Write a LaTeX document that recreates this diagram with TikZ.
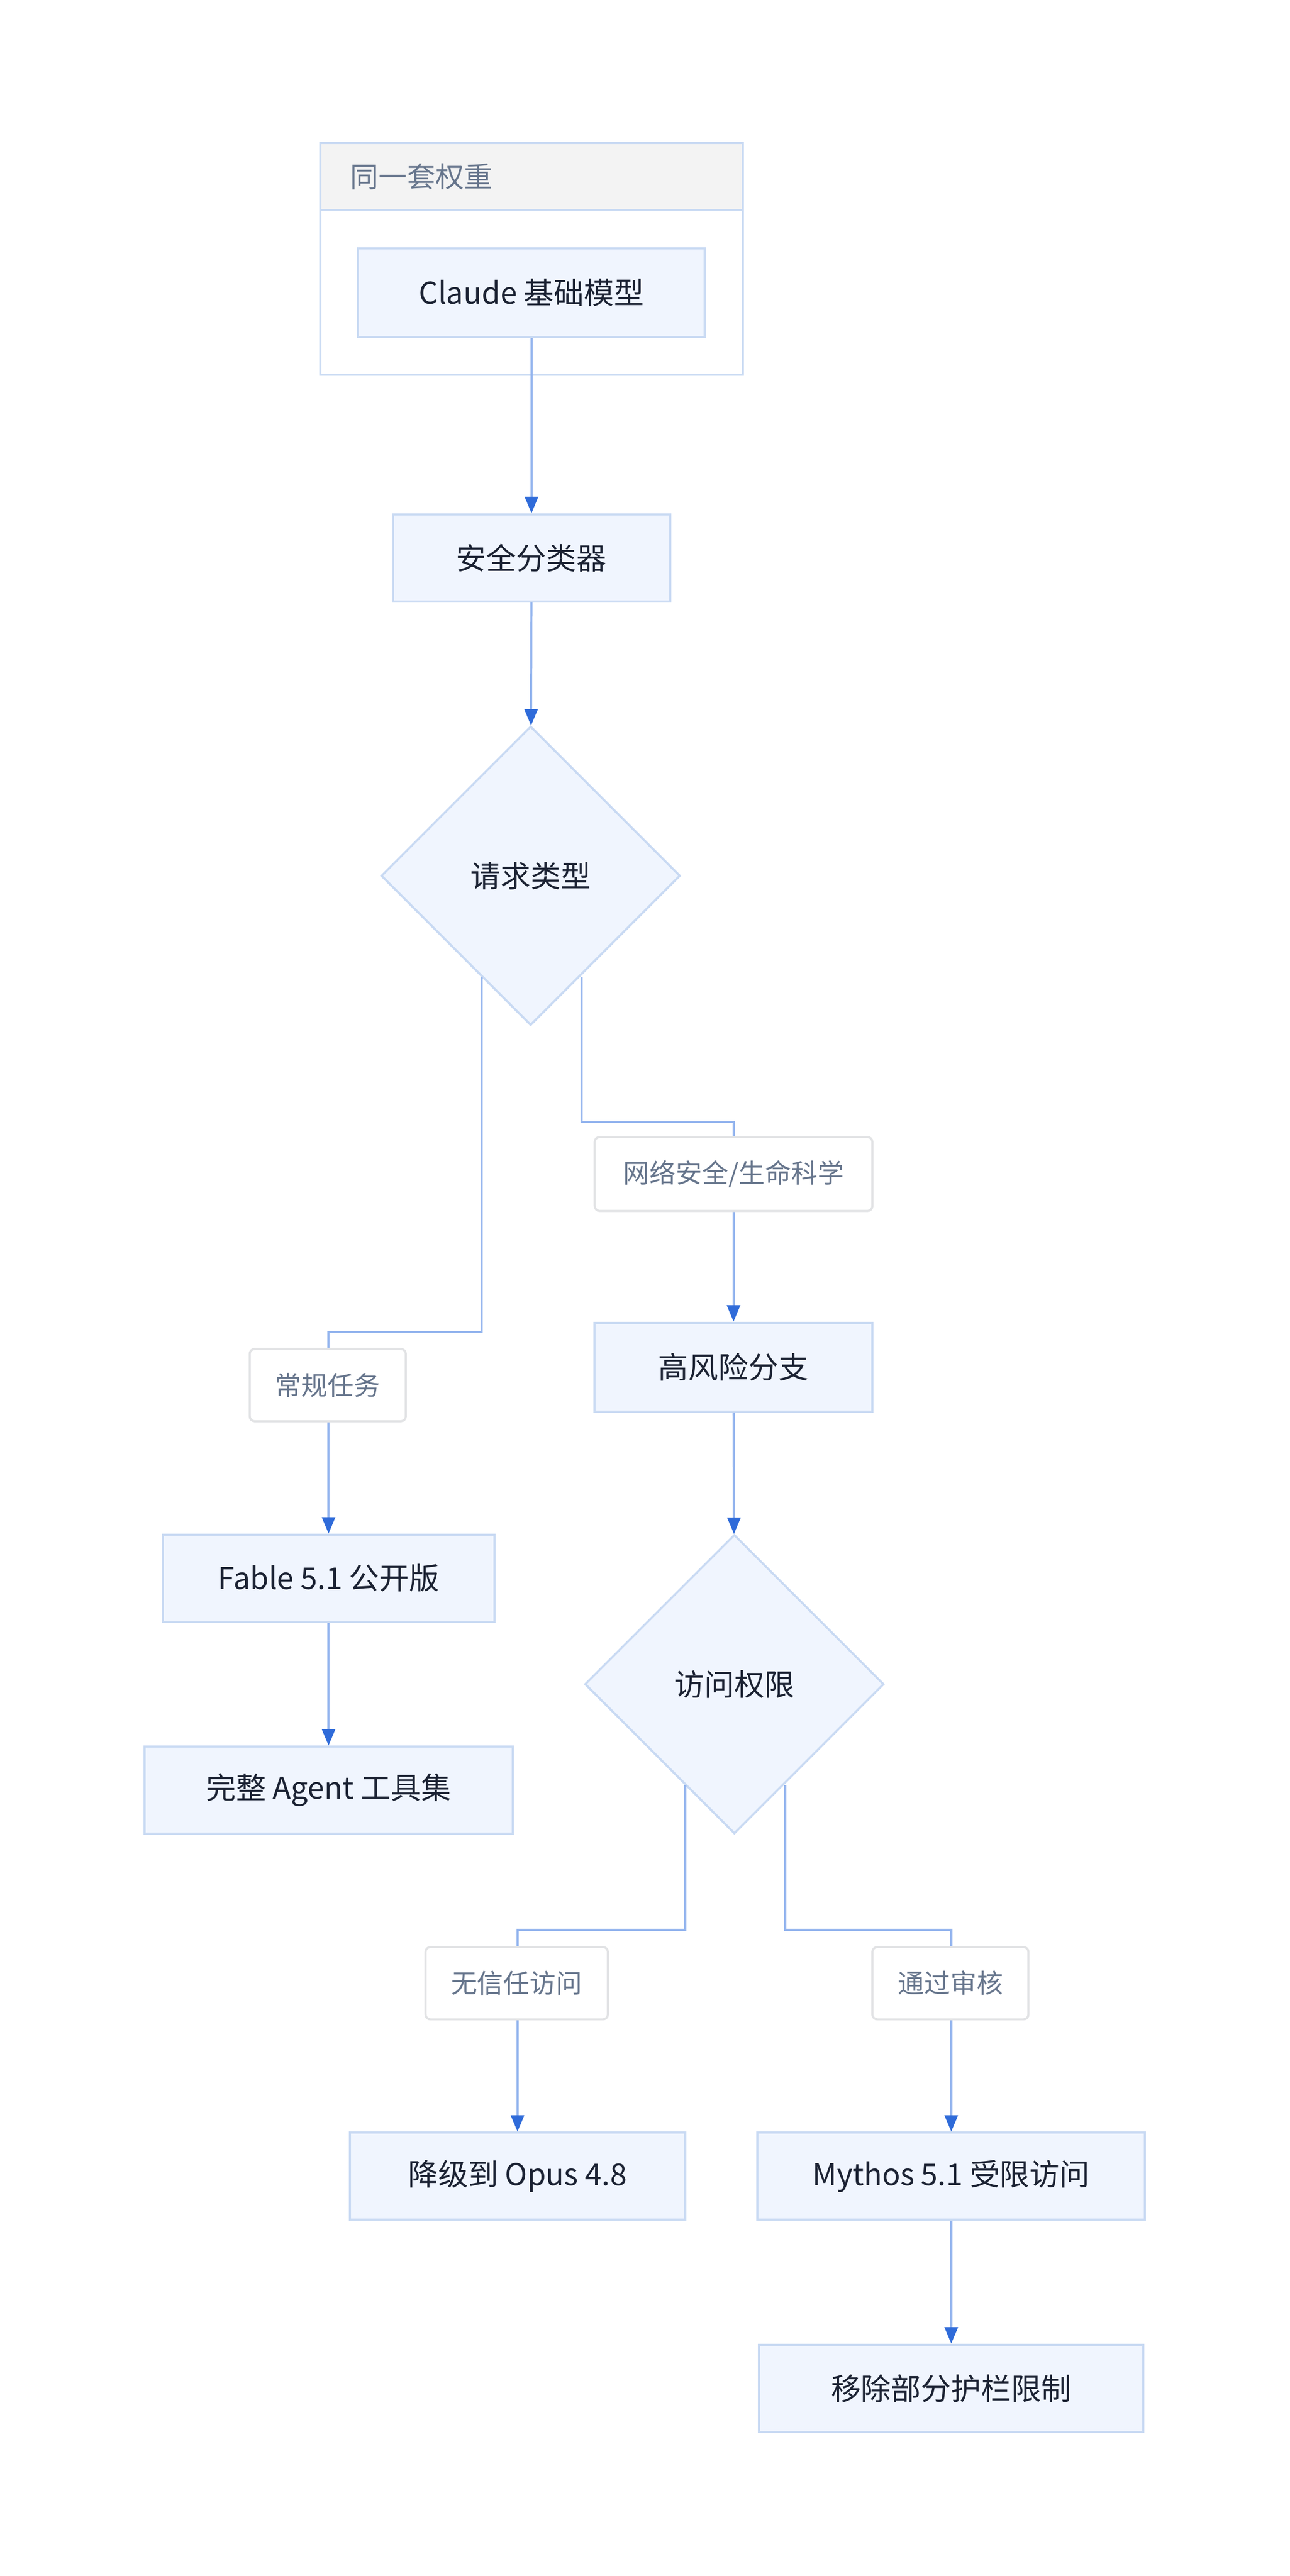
\documentclass[tikz,border=0pt]{standalone}
\usepackage{fontspec}
\setmainfont{Noto Sans CJK SC}
\usetikzlibrary{shapes.geometric,arrows.meta,calc}
\definecolor{boxfill}{HTML}{F0F5FE}
\definecolor{boxline}{HTML}{C9DAF3}
\definecolor{edgeline}{HTML}{93B4EE}
\definecolor{tipblue}{HTML}{2F6BD9}
\definecolor{txtdark}{HTML}{1B2233}
\definecolor{txtslate}{HTML}{66758C}
\definecolor{lblline}{HTML}{E2E3E5}
\definecolor{headfill}{HTML}{F3F3F3}
\tikzset{
  procbox/.style={draw=boxline, fill=boxfill, line width=1.3pt, inner sep=0pt,
    minimum height=54pt, text=txtdark, font=\fontsize{18.3}{22}\selectfont},
  decbox/.style={diamond, draw=boxline, fill=boxfill, line width=1.3pt, inner sep=0pt,
    minimum width=182pt, minimum height=182pt, text=txtdark, font=\fontsize{18.3}{22}\selectfont},
  lblbox/.style={draw=lblline, fill=white, line width=1.3pt, rounded corners=3pt, inner sep=0pt,
    minimum height=44pt, text=txtslate, font=\fontsize{16}{19}\selectfont},
  edge/.style={draw=edgeline, line width=1.3pt,
    -{Triangle[length=10pt,width=8pt,color=tipblue]}},
}
\begin{document}
\begin{tikzpicture}[x=1pt,y=-1pt]
\useasboundingbox (0,0) rectangle (785.2,1567.8);
% group
\node[draw=boxline, fill=white, line width=1.3pt, minimum width=257pt, minimum height=141pt, inner sep=0pt] (grp) at (323.5,157.5) {};
\node[draw=boxline, fill=headfill, line width=1.3pt, minimum width=257pt, minimum height=41pt, inner sep=0pt] (grphead) at (323.5,107.5) {};
\node[anchor=west, text=txtslate, font=\fontsize{17.3}{20}\selectfont, inner sep=0pt] (grptitle) at (213,107.5) {同一套权重};
% nodes
\node[procbox, minimum width=211pt] (claude) at (323.5,178) {Claude 基础模型};
\node[procbox, minimum width=169pt, minimum height=53pt] (cls) at (323.5,339.5) {安全分类器};
\node[decbox] (d1) at (323,533) {请求类型};
\node[procbox, minimum width=169pt] (hr) at (446.5,832) {高风险分支};
\node[decbox] (d2) at (447,1025) {访问权限};
\node[procbox, minimum width=202pt, minimum height=53pt] (fable) at (200,960.5) {Fable 5.1 公开版};
\node[procbox, minimum width=224pt, minimum height=53pt] (agent) at (200,1089.5) {完整 Agent 工具集};
\node[procbox, minimum width=204pt, minimum height=53pt] (opus) at (315,1324.5) {降级到 Opus 4.8};
\node[procbox, minimum width=236pt, minimum height=53pt] (mythos) at (579,1324.5) {Mythos 5.1 受限访问};
\node[procbox, minimum width=234pt, minimum height=53pt] (remove) at (579,1453.5) {移除部分护栏限制};
% edges
\draw[edge] (claude) -- (cls);
\draw[edge] (cls) -- (d1);
\draw[edge] ([shift={(-30,-30)}]d1.south) -- ++(0,216) -| (fable.north);
\draw[edge] ([shift={(31,-30)}]d1.south) -- ++(0,88) -| (hr.north);
\draw[edge] (hr) -- (d2);
\draw[edge] (fable) -- (agent);
\draw[edge] ([shift={(-30,-30)}]d2.south) -- ++(0,88) -| (opus.north);
\draw[edge] ([shift={(31,-30)}]d2.south) -- ++(0,88) -| (mythos.north);
\draw[edge] (mythos) -- (remove);
% edge labels
\node[lblbox, minimum width=95pt] (l1) at (199.5,843) {常规任务};
\node[lblbox, minimum width=169pt, minimum height=45pt] (l2) at (446.5,714.5) {网络安全/生命科学};
\node[lblbox, minimum width=111pt] (l3) at (314.5,1207) {无信任访问};
\node[lblbox, minimum width=95pt] (l4) at (578.5,1207) {通过审核};
\end{tikzpicture}
\end{document}
